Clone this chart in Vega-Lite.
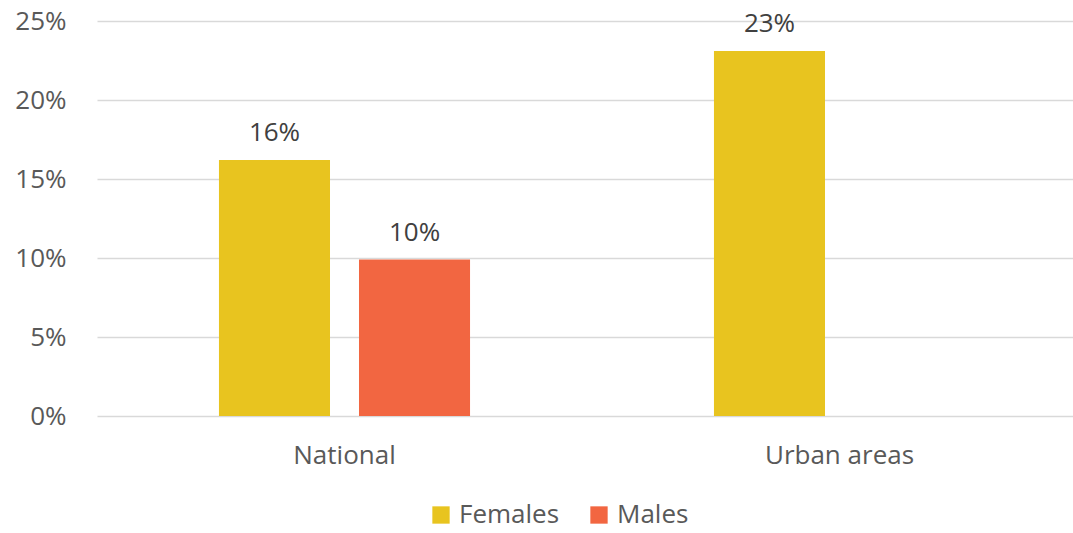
{
  "$schema": "https://vega.github.io/schema/vega-lite/v6.json",
  "width": 976,
  "height": 395,
  "autosize": {"type": "none"},
  "padding": {"left": 97, "top": 21, "right": 0, "bottom": 117},
  "background": "white",
  "config": {
    "view": {"stroke": null},
    "font": "Open Sans",
    "axis": {"labelFont": "Open Sans", "labelColor": "#595959", "labelFontSize": 26},
    "legend": {"labelFont": "Open Sans", "labelColor": "#595959", "labelFontSize": 26}
  },
  "data": {
    "values": [
      {"area": "National", "sex": "Females", "value": 0.162},
      {"area": "National", "sex": "Males", "value": 0.099},
      {"area": "Urban areas", "sex": "Females", "value": 0.231}
    ]
  },
  "encoding": {
    "x": {
      "field": "area",
      "type": "nominal",
      "sort": ["National", "Urban areas"],
      "scale": {"paddingInner": 0, "paddingOuter": 0, "range": [0, 990]},
      "axis": {"title": null, "labelAngle": 0, "ticks": false, "domain": false, "labelPadding": 26, "labelBaseline": "top"}
    },
    "xOffset": {
      "field": "sex",
      "type": "nominal",
      "sort": ["Females", "Males"],
      "scale": {"paddingInner": 0.207, "paddingOuter": 0.871}
    },
    "y": {
      "field": "value",
      "type": "quantitative",
      "scale": {"domain": [0, 0.25]},
      "axis": {
        "title": null,
        "format": ".0%",
        "values": [0, 0.05, 0.1, 0.15, 0.2, 0.25],
        "ticks": false,
        "domain": false,
        "gridColor": "#D9D9D9",
        "gridWidth": 1.5,
        "labelPadding": 31
      }
    }
  },
  "layer": [
    {
      "mark": {"type": "bar"},
      "encoding": {
        "color": {
          "field": "sex",
          "type": "nominal",
          "sort": ["Females", "Males"],
          "scale": {"domain": ["Females", "Males"], "range": ["#E8C41F", "#F26641"]},
          "legend": {
            "title": null,
            "orient": "none",
            "direction": "horizontal",
            "legendX": 331,
            "legendY": 481,
            "symbolType": "square",
            "symbolSize": 300,
            "symbolStrokeWidth": 0,
            "columnPadding": 26,
            "labelOffset": 5
          }
        }
      }
    },
    {
      "mark": {"type": "text", "baseline": "bottom", "dy": -14, "fontSize": 26, "color": "#404040", "font": "Open Sans"},
      "encoding": {
        "text": {"field": "value", "type": "quantitative", "format": ".0%"}
      }
    }
  ]
}
